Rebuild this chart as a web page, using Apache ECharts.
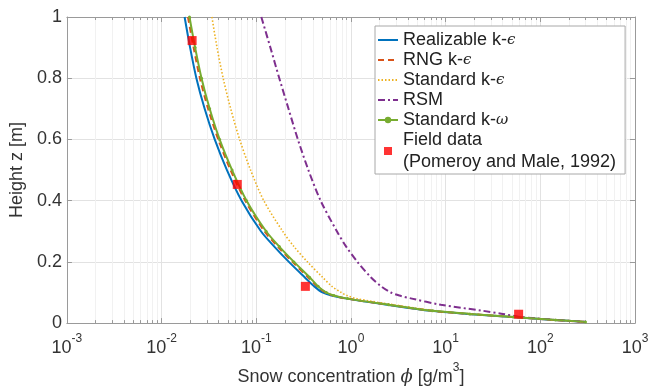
<!DOCTYPE html>
<html>
<head>
<meta charset="utf-8">
<script src="https://cdn.jsdelivr.net/npm/echarts@6/dist/echarts.min.js"></script>
<style>
  html, body { margin: 0; padding: 0; background: #ffffff; }
  #chart { width: 652px; height: 391px; }
</style>
</head>
<body>
<div id="chart"></div>
<script>
// Heights above the snow surface [m] at which each model profile is sampled
const heights = [1.0, 0.9, 0.8, 0.7, 0.6, 0.5, 0.4, 0.3, 0.25, 0.2, 0.15, 0.12, 0.1, 0.09, 0.08, 0.06, 0.04, 0.03, 0.02, 0.01, 0.004];

// Snow concentration phi [g/m^3] predicted by each turbulence model at those heights
const realizableKE = [0.0175, 0.0200, 0.0233, 0.0285, 0.0364, 0.049, 0.070, 0.112, 0.155, 0.221, 0.324, 0.41, 0.50, 0.62, 0.90, 2.4, 7.0, 17, 50, 140, 300];
const rngKE        = [0.0190, 0.0218, 0.0254, 0.0310, 0.0397, 0.0535, 0.0765, 0.122, 0.169, 0.241, 0.352, 0.44, 0.54, 0.65, 0.91, 2.5, 7.2, 17.5, 51, 142, 300];
const standardKE   = [0.034, 0.0385, 0.0447, 0.0537, 0.0667, 0.087, 0.120, 0.190, 0.250, 0.347, 0.50, 0.63, 0.79, 0.91, 1.15, 2.8, 7.8, 18.5, 53, 145, 300];
const rsm          = [0.113, 0.141, 0.175, 0.219, 0.275, 0.355, 0.478, 0.71, 0.89, 1.17, 1.62, 2.09, 2.63, 3.24, 4.4, 8.9, 25, 40, 62, 150, 300];
const standardKW   = [0.0197, 0.0226, 0.0264, 0.0322, 0.0410, 0.0555, 0.079, 0.127, 0.175, 0.250, 0.365, 0.45, 0.55, 0.66, 0.92, 2.5, 7.3, 18, 52, 145, 300];

// Field measurements (Pomeroy and Male, 1992)
const fieldPhi = [0.021, 0.063, 0.33, 59];
const fieldZ   = [0.923, 0.453, 0.12, 0.029];

// Axis ticks
const xMajorTicks = [0.001, 0.01, 0.1, 1, 10, 100, 1000];
const yTicks = [0, 0.2, 0.4, 0.6, 0.8, 1];

const xMinorTicks = [];
for (let d = -3; d < 3; d++) {
  for (let k = 2; k <= 9; k++) {
    xMinorTicks.push(Number((k * Math.pow(10, d)).toPrecision(2)));
  }
}

const pairs = (xs, ys) => xs.map((x, i) => [x, ys[i]]);

const fontFamily = '"Liberation Sans", Arial, Helvetica, sans-serif';
const textColor = '#333333';
const axisGray = '#9a9a9a';
const majorGrid = '#e2e2e2';
const minorGrid = '#f1f1f1';

const names = {
  real: 'Realizable k-ϵ',
  rng: 'RNG k-ϵ',
  ske: 'Standard k-ϵ',
  rsm: 'RSM',
  skw: 'Standard k-ω',
  field: 'Field data (Pomeroy and Male, 1992)'
};

const legendLabels = {};
legendLabels[names.real] = '{n|Realizable k-}{g|ϵ}';
legendLabels[names.rng] = '{n|RNG k-}{g|ϵ}';
legendLabels[names.ske] = '{n|Standard k-}{g|ϵ}';
legendLabels[names.rsm] = '{n|RSM}';
legendLabels[names.skw] = '{n|Standard k-}{g|ω}';
legendLabels[names.field] = '{n|Field data}\n{n|(Pomeroy and Male, 1992)}';

const supRich = {
  b: { fontSize: 18, lineHeight: 24, verticalAlign: 'bottom', color: textColor, fontFamily: fontFamily },
  e: { fontSize: 12, lineHeight: 12, verticalAlign: 'top', color: textColor, fontFamily: fontFamily }
};

function logAxis(position, major, extra) {
  const ax = {
    type: 'log',
    logBase: 10,
    min: 0.001,
    max: 1000,
    position: position,
    axisLine: { show: major, onZero: false, lineStyle: { color: axisGray, width: 1 } },
    axisTick: {
      show: true, inside: true, length: major ? 5 : 3,
      customValues: major ? xMajorTicks : xMinorTicks,
      lineStyle: { color: axisGray, width: 1 }
    },
    axisLabel: { show: false },
    splitLine: { show: false }
  };
  return Object.assign(ax, extra || {});
}

const chart = echarts.init(document.getElementById('chart'), null, { renderer: 'canvas' });

chart.setOption({
  animation: false,
  backgroundColor: '#ffffff',
  textStyle: { fontFamily: fontFamily },
  grid: { left: 65, right: 17, top: 17, bottom: 67, containLabel: false },
  xAxis: [
    logAxis('bottom', true, {
      axisLabel: {
        show: true,
        customValues: xMajorTicks,
        margin: 10,
        formatter: function (v) {
          return '{b|10}{e|' + Math.round(Math.log10(v)) + '}';
        },
        rich: supRich
      },
      splitLine: { show: true, lineStyle: { color: majorGrid, width: 1 } },
      name: '{n|Snow concentration }{i|ϕ}{n| [g/m}{e|3}{n|]}',
      nameLocation: 'middle',
      nameGap: 38,
      nameTextStyle: {
        rich: {
          n: { fontSize: 18, lineHeight: 24, verticalAlign: 'bottom', color: textColor, fontFamily: fontFamily },
          i: { fontSize: 18, lineHeight: 24, verticalAlign: 'bottom', color: textColor, fontStyle: 'italic', fontFamily: '"DejaVu Serif", serif' },
          e: { fontSize: 12, lineHeight: 12, verticalAlign: 'top', color: textColor, fontFamily: fontFamily }
        }
      }
    }),
    logAxis('bottom', false, {
      splitLine: { show: true, lineStyle: { color: minorGrid, width: 1 } }
    }),
    logAxis('top', true),
    logAxis('top', false)
  ],
  yAxis: [
    {
      type: 'value',
      min: 0,
      max: 1,
      interval: 0.2,
      position: 'left',
      axisLine: { show: true, onZero: false, lineStyle: { color: axisGray, width: 1 } },
      axisTick: { show: true, inside: true, length: 5, lineStyle: { color: axisGray } },
      axisLabel: { fontSize: 18, color: textColor, margin: 5, fontFamily: fontFamily },
      splitLine: { show: true, lineStyle: { color: majorGrid, width: 1 } },
      name: 'Height z [m]',
      nameLocation: 'middle',
      nameRotate: 90,
      nameGap: 36,
      nameTextStyle: { fontSize: 18, color: textColor, fontFamily: fontFamily }
    },
    {
      type: 'value',
      min: 0,
      max: 1,
      interval: 0.2,
      position: 'right',
      axisLine: { show: true, onZero: false, lineStyle: { color: axisGray, width: 1 } },
      axisTick: { show: true, inside: true, length: 5, lineStyle: { color: axisGray } },
      axisLabel: { show: false },
      splitLine: { show: false }
    }
  ],
  legend: {
    orient: 'vertical',
    left: 375,
    top: 26,
    padding: [5, 9, 3, 2],
    itemGap: 2,
    itemWidth: 20,
    itemHeight: 8,
    backgroundColor: '#ffffff',
    borderColor: '#a8a8a8',
    borderWidth: 1,
    formatter: function (name) { return legendLabels[name] || name; },
    textStyle: {
      rich: {
        n: { fontSize: 18, lineHeight: 22, color: '#222222', fontFamily: fontFamily },
        g: { fontSize: 15, lineHeight: 22, color: '#222222', fontStyle: 'italic', fontFamily: '"DejaVu Serif", serif' }
      }
    },
    data: [
      { name: names.real, itemStyle: { opacity: 0 } },
      { name: names.rng, itemStyle: { opacity: 0 } },
      { name: names.ske, itemStyle: { opacity: 0 } },
      { name: names.rsm, itemStyle: { opacity: 0 } },
      { name: names.skw },
      { name: names.field, icon: 'path://M0,0L10,0L10,10L0,10Z' }
    ]
  },
  series: [
    {
      name: names.real, type: 'line', data: pairs(realizableKE, heights),
      symbol: 'none', smooth: 0.3,
      lineStyle: { color: '#0072BD', width: 2 }, itemStyle: { color: '#0072BD' }
    },
    {
      name: names.rng, type: 'line', data: pairs(rngKE, heights),
      symbol: 'none', smooth: 0.3,
      lineStyle: { color: '#D95319', width: 2, type: [6, 4] }, itemStyle: { color: '#D95319' }
    },
    {
      name: names.ske, type: 'line', data: pairs(standardKE, heights),
      symbol: 'none', smooth: 0.3,
      lineStyle: { color: '#EDB120', width: 1.6, type: [1.5, 2] }, itemStyle: { color: '#EDB120' }
    },
    {
      name: names.rsm, type: 'line', data: pairs(rsm, heights),
      symbol: 'none', smooth: 0.3,
      lineStyle: { color: '#7E2F8E', width: 2, type: [7, 3, 2, 3] }, itemStyle: { color: '#7E2F8E' }
    },
    {
      name: names.skw, type: 'line', data: pairs(standardKW, heights),
      symbol: 'circle', symbolSize: 3, showSymbol: true, smooth: 0.3,
      lineStyle: { color: '#77AC30', width: 2 }, itemStyle: { color: '#77AC30' }
    },
    {
      name: names.field, type: 'scatter', data: pairs(fieldPhi, fieldZ),
      symbol: 'rect', symbolSize: 9,
      itemStyle: { color: '#ff0000' }, z: 5
    }
  ]
});
</script>
</body>
</html>
